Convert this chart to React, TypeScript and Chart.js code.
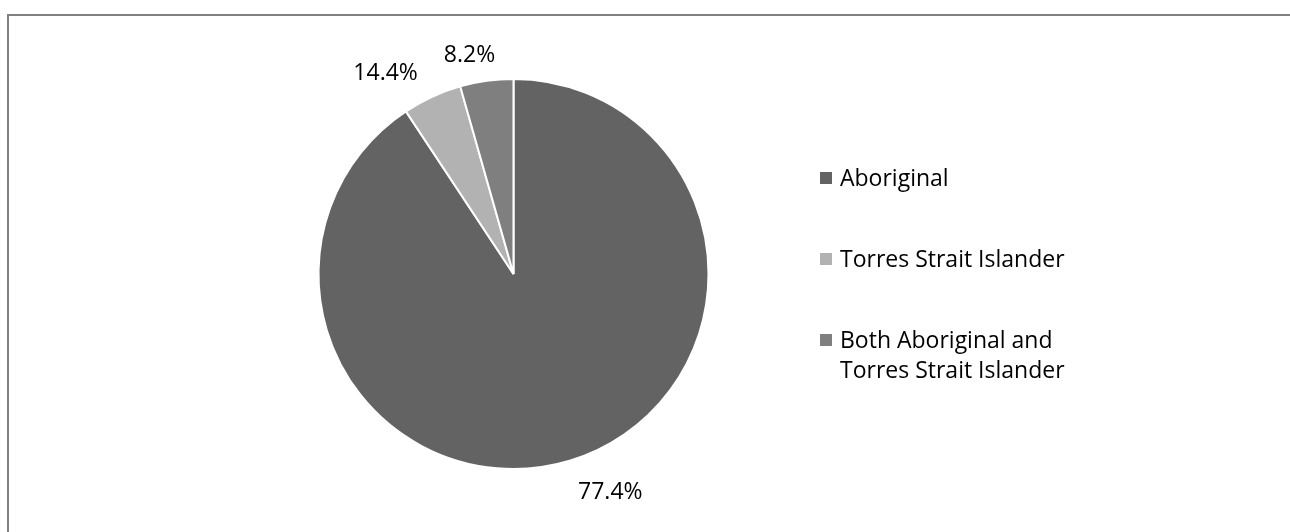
import React, { useEffect, useRef } from "react";
import { Chart, registerables } from "chart.js";

Chart.register(...registerables);

const categories = ["Aboriginal", "Torres Strait Islander", "Both Aboriginal and Torres Strait Islander"];
const legendLines = [["Aboriginal"], ["Torres Strait Islander"], ["Both Aboriginal and", "Torres Strait Islander"]];
const sliceValues = [90.7, 4.9, 4.4];
const labelTexts = ["77.4%", "14.4%", "8.2%"];
const sliceColors = ["#636363", "#b2b2b2", "#7f7f7f"];

const FONT = "23px 'Open Sans'";

const labelPlugin = {
  id: "sliceLabels",
  afterDatasetsDraw(chart: any, _args: any, opts: any) {
    const ctx = chart.ctx;
    const meta = chart.getDatasetMeta(0);
    ctx.save();
    ctx.font = FONT;
    ctx.fillStyle = "#000";
    ctx.textAlign = "center";
    ctx.textBaseline = "alphabetic";
    meta.data.forEach((arc: any, i: number) => {
      const p = arc.getProps(["x", "y", "startAngle", "endAngle", "outerRadius"], true);
      const mid = (p.startAngle + p.endAngle) / 2;
      const r = p.outerRadius + 30;
      const nudge = opts.nudges[i] || [0, 0];
      const x = p.x + Math.cos(mid) * r + nudge[0];
      const y = p.y + Math.sin(mid) * r + nudge[1];
      ctx.fillText(labelTexts[i], x, y);
    });
    ctx.restore();
  },
};

const legendPlugin = {
  id: "sideLegend",
  afterDraw(chart: any, _args: any, opts: any) {
    const ctx = chart.ctx;
    ctx.save();
    ctx.font = FONT;
    ctx.textAlign = "left";
    ctx.textBaseline = "alphabetic";
    let y = opts.top;
    legendLines.forEach((lines, i) => {
      ctx.fillStyle = sliceColors[i];
      ctx.fillRect(opts.left, y - 14, 12, 12);
      ctx.fillStyle = "#000";
      lines.forEach((t, j) => {
        ctx.fillText(t, opts.left + 20, y + j * opts.lineHeight);
      });
      y += opts.itemGap + (lines.length - 1) * opts.lineHeight;
    });
    ctx.restore();
  },
};

export default function App() {
  const ref = useRef<HTMLCanvasElement | null>(null);
  useEffect(() => {
    if (!ref.current) return;
    const chart = new Chart(ref.current, {
      type: "pie",
      data: {
        labels: categories,
        datasets: [
          {
            data: sliceValues,
            backgroundColor: sliceColors,
            borderColor: "#ffffff",
            borderWidth: 2,
          },
        ],
      },
      options: {
        animation: false,
        responsive: false,
        maintainAspectRatio: false,
        layout: { padding: { left: 317, right: 580, top: 78, bottom: 62 } },
        plugins: {
          legend: { display: false },
          tooltip: { enabled: false },
          sliceLabels: { nudges: [[32, 10], [-34, 10], [-13, 11]] },
          sideLegend: { left: 820, top: 186, lineHeight: 30, itemGap: 81 },
        } as any,
      },
      plugins: [labelPlugin, legendPlugin],
    });
    return () => chart.destroy();
  }, []);
  return (
    <div style={{ position: "fixed", left: 0, top: 0, width: 1290, height: 532, overflow: "hidden", background: "#fff" }}>
      <div
        style={{
          position: "absolute",
          left: 7,
          top: 14,
          width: 1400,
          height: 700,
          borderTop: "2px solid #808080",
          borderLeft: "2px solid #808080",
        }}
      />
      <canvas ref={ref} width={1290} height={532} style={{ position: "absolute", left: 0, top: 0 }} />
    </div>
  );
}
